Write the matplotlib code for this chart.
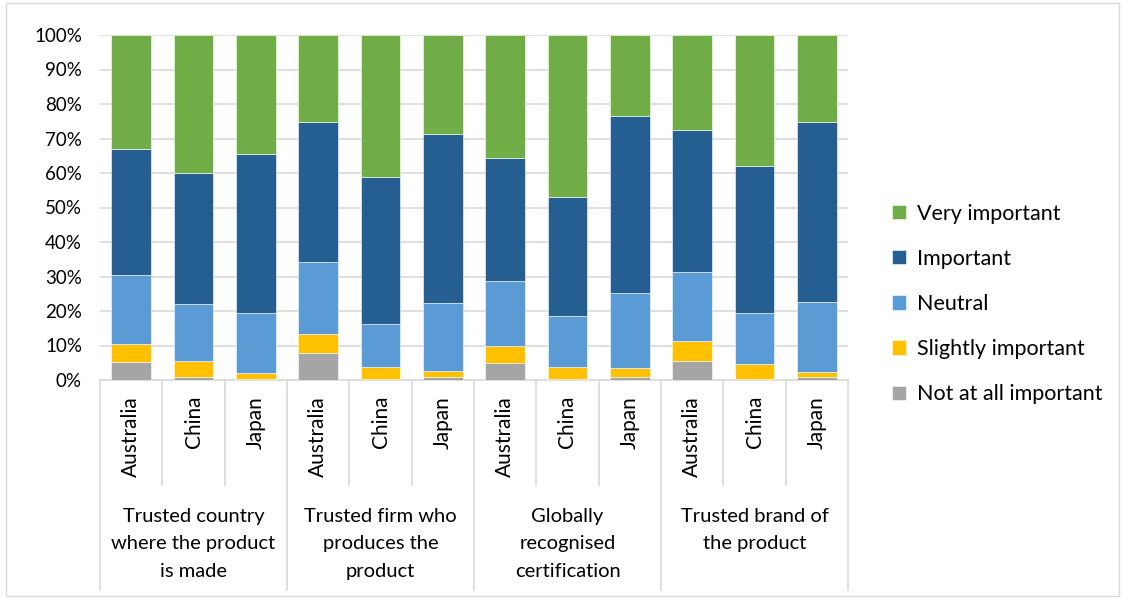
import numpy as np
import matplotlib.pyplot as plt
from matplotlib.patches import Rectangle
from matplotlib.transforms import blended_transform_factory

plt.rcParams['font.family'] = ['Lato', 'DejaVu Sans']

groups = ['Trusted country\nwhere the product\nis made',
          'Trusted firm who\nproduces the\nproduct',
          'Globally\nrecognised\ncertification',
          'Trusted brand of\nthe product']
countries = ['Australia', 'China', 'Japan']

# shares in percent, bars ordered group by group (Australia, China, Japan)
not_at_all = [5.3, 0.8, 0.3, 7.8, 0.3, 0.8, 5.0, 0.2, 0.8, 5.4, 0.2, 1.0]
slightly   = [5.2, 4.7, 1.7, 5.6, 3.4, 1.8, 4.9, 3.6, 2.6, 5.9, 4.4, 1.3]
neutral    = [19.9, 16.5, 17.4, 20.8, 12.4, 19.6, 18.8, 14.8, 21.8, 20.0, 14.8, 20.2]
important  = [36.6, 38.0, 46.1, 40.6, 42.7, 49.1, 35.6, 34.4, 51.3, 41.2, 42.6, 52.3]
very_imp   = [100 - a - b - c - d for a, b, c, d in
              zip(not_at_all, slightly, neutral, important)]

series = [('Not at all important', not_at_all, '#A5A5A5'),
          ('Slightly important', slightly, '#FFC000'),
          ('Neutral', neutral, '#5B9BD5'),
          ('Important', important, '#255E91'),
          ('Very important', very_imp, '#70AD47')]

W, H = 1123, 599
fig = plt.figure(figsize=(W / 100, H / 100), dpi=100)
ax = fig.add_axes([100 / W, 219 / H, 748 / W, 345 / H])

x = np.arange(len(not_at_all))
bottom = np.zeros(len(x))
handles = []
for name, vals, col in series:
    b = ax.bar(x, vals, 0.64, bottom=bottom, color=col, label=name,
               edgecolor='white', linewidth=0.4, zorder=3)
    bottom += np.array(vals)
    handles.append(b)

ax.set_xlim(-0.5, len(x) - 0.5)
ax.set_ylim(0, 100)
ax.set_yticks(np.arange(0, 101, 10))
ax.set_yticklabels([f'{v}%' for v in range(0, 101, 10)], fontsize=13.5)
ax.tick_params(axis='y', length=0, pad=13)
ax.yaxis.grid(True, color='#D9D9D9', linewidth=1.2, zorder=0)
ax.set_xticks([])
for s in ['top', 'right', 'left']:
    ax.spines[s].set_visible(False)
ax.spines['bottom'].set_color('#D9D9D9')
ax.spines['bottom'].set_linewidth(1.2)

# two-level category axis: short ticks between countries, long ones between groups
tr = blended_transform_factory(ax.transData, ax.transAxes)
for i in range(len(x) + 1):
    edge = i - 0.5
    low = -210 / 345 if i % 3 == 0 else -105 / 345
    ax.plot([edge, edge], [0, low], color='#D9D9D9', lw=1.2,
            transform=tr, clip_on=False)

for i in x:
    ax.text(i, -16 / 345, countries[i % 3], rotation=90, ha='center', va='top',
            fontsize=15, transform=tr)

for g, label in enumerate(groups):
    ax.text(3 * g + 1, -128 / 345, label, ha='center', va='top', fontsize=14.5,
            linespacing=1.75, transform=tr)

fig.legend(handles[::-1], [s[0] for s in series][::-1],
           loc='center left', bbox_to_anchor=(873 / W, 1 - 304 / H),
           frameon=False, fontsize=15.5, labelspacing=1.17,
           handlelength=0.65, handleheight=0.65, handletextpad=0.5)

fig.patches.append(Rectangle((6 / W, 3 / H), (W - 10) / W, (H - 6) / H,
                             transform=fig.transFigure, fill=False,
                             edgecolor='#D9D9D9', lw=1))

fig.savefig('out.png', dpi=100)
